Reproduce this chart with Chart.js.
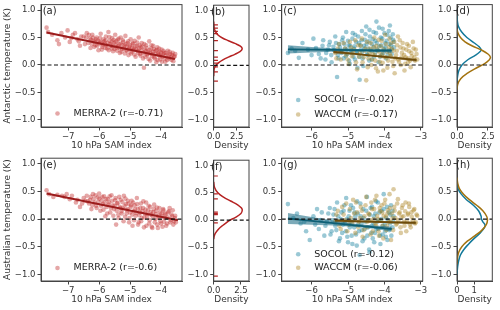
<!DOCTYPE html>
<html><head><meta charset="utf-8">
<script src="https://cdn.jsdelivr.net/npm/chart.js@4/dist/chart.umd.min.js"></script>
<style>
html,body{margin:0;padding:0;background:#fff;}
#wrap{position:relative;width:500px;height:310px;overflow:hidden;background:#fff;}
canvas{position:absolute;left:0;}
</style></head><body><div id="wrap">
<canvas id="pa" width="500" height="155" style="top:0"></canvas>
<canvas id="pb" width="500" height="155" style="top:0"></canvas>
<canvas id="pc" width="500" height="155" style="top:0"></canvas>
<canvas id="pd" width="500" height="155" style="top:0"></canvas>
<canvas id="pe" width="500" height="155" style="top:155px"></canvas>
<canvas id="pf" width="500" height="155" style="top:155px"></canvas>
<canvas id="pg" width="500" height="155" style="top:155px"></canvas>
<canvas id="ph" width="500" height="155" style="top:155px"></canvas>
</div>
<script>
// ---------- tick values / labels ----------
const yTickVals = [-1, -0.5, 0, 0.5, 1];
const yTickLabels = ['\u22121.0', '\u22120.5', '0.0', '0.5', '1.0'];
const samTicksA = [-7, -6, -5, -4];
const samLabelsA = ['\u22127', '\u22126', '\u22125', '\u22124'];
const samTicksC = [-6, -5, -4, -3];
const samLabelsC = ['\u22126', '\u22125', '\u22124', '\u22123'];
const densTicks25 = [0, 2.5];
const densLabels25 = ['0.0', '2.5'];
const densTicks1 = [0, 1];
const densLabels1 = ['0', '1'];

// ---------- (a) MERRA-2, Antarctic ----------
const merraAntX = [-7.70,-7.65,-7.52,-7.35,-7.30,-7.22,-7.10,-7.02,-6.95,-6.85,-6.70,-6.62,-6.50,-6.40,-6.35,-6.30,-6.28,-6.22,-6.18,-6.12,-6.08,-6.02,-5.98,-5.95,-5.90,-5.86,-5.82,-5.78,-5.74,-5.70,-5.66,-5.62,-5.58,-5.55,-5.51,-5.48,-5.44,-5.40,-5.36,-5.33,-5.30,-5.26,-5.22,-5.18,-5.15,-5.12,-5.08,-5.05,-5.02,-4.98,-4.95,-4.92,-4.88,-4.85,-4.82,-4.78,-4.75,-4.72,-4.68,-4.65,-4.62,-4.58,-4.55,-4.52,-4.48,-4.45,-4.42,-4.38,-4.35,-4.32,-4.28,-4.25,-4.22,-4.18,-4.15,-4.12,-4.08,-4.05,-4.02,-3.98,-3.95,-3.90,-3.86,-3.82,-3.78,-3.74,-3.70,-3.66,-3.62,-3.58];
const merraAntY = [0.68,0.60,0.55,0.45,0.38,0.58,0.50,0.63,0.42,0.55,0.47,0.35,0.52,0.58,0.40,0.48,0.31,0.55,0.44,0.36,0.50,0.27,0.42,0.57,0.33,0.47,0.39,0.52,0.30,0.60,0.44,0.35,0.49,0.25,0.41,0.55,0.32,0.46,0.38,0.22,0.50,0.29,0.42,0.35,0.53,0.27,0.40,0.18,0.33,0.47,0.24,0.38,0.30,0.44,0.15,0.35,0.26,0.50,0.20,0.32,0.40,0.12,-0.05,0.28,0.36,0.18,0.24,0.43,0.08,0.30,0.20,0.35,0.14,0.26,0.05,0.32,0.18,0.24,0.10,0.28,0.15,0.22,0.06,0.18,0.26,0.12,0.20,0.09,0.22,0.14];
const merraAntMore = [[-6.26,0.46],[-6.24,0.38],[-6.20,0.50],[-6.16,0.33],[-6.14,0.42],[-6.10,0.47],[-6.06,0.35],[-6.04,0.44],[-6.00,0.39],[-5.97,0.49],[-5.93,0.41],[-5.91,0.28],[-5.88,0.37],[-5.84,0.43],[-5.80,0.31],[-5.79,0.45],[-5.76,0.36],[-5.72,0.40],[-5.69,0.27],[-5.67,0.51],[-5.64,0.38],[-5.60,0.30],[-5.59,0.42],[-5.56,0.34],[-5.53,0.46],[-5.50,0.29],[-5.47,0.37],[-5.45,0.43],[-5.42,0.26],[-5.39,0.34],[-5.37,0.48],[-5.34,0.31],[-5.31,0.39],[-5.28,0.24],[-5.25,0.36],[-5.23,0.45],[-5.20,0.30],[-5.17,0.21],[-5.14,0.38],[-5.11,0.33],[-5.09,0.26],[-5.06,0.43],[-5.03,0.29],[-5.00,0.36],[-4.97,0.21],[-4.94,0.31],[-4.91,0.40],[-4.89,0.27],[-4.86,0.19],[-4.83,0.34],[-4.80,0.28],[-4.77,0.41],[-4.74,0.22],[-4.71,0.30],[-4.69,0.36],[-4.66,0.17],[-4.63,0.26],[-4.60,0.33],[-4.57,0.22],[-4.54,0.38],[-4.51,0.15],[-4.49,0.25],[-4.46,0.31],[-4.43,0.20],[-4.40,0.11],[-4.37,0.27],[-4.34,0.22],[-4.31,0.36],[-4.29,0.16],[-4.26,0.24],[-4.23,0.29],[-4.20,0.12],[-4.17,0.20],[-4.14,0.27],[-4.11,0.09],[-4.09,0.21],[-4.06,0.30],[-4.03,0.16],[-4.00,0.22],[-3.97,0.06],[-3.94,0.19],[-3.92,0.26],[-3.88,0.12],[-3.85,0.22],[-3.80,0.09],[-3.76,0.17],[-3.72,0.24],[-3.68,0.14],[-3.64,0.18],[-3.60,0.07],[-3.56,0.16],[-3.54,0.20],[-6.90,0.49],[-6.78,0.58],[-6.66,0.43],[-6.58,0.52],[-6.46,0.38],[-6.42,0.50],[-6.33,0.55]];
const fitMerraAntX = [-7.7, -3.55];
const fitMerraAntY = [0.59, 0.11];

// ---------- (b) MERRA-2 Antarctic density ----------
const kdeObsAntT = [-0.2,-0.1,-0.05,0.0,0.05,0.1,0.15,0.2,0.25,0.3,0.35,0.4,0.45,0.5,0.55,0.6,0.65,0.7,0.8];
const kdeObsAntD = [0.0,0.03,0.08,0.25,0.55,1.0,1.6,2.3,2.85,3.1,2.9,2.3,1.6,0.95,0.5,0.25,0.1,0.04,0.0];
const rugObsAnt = [0.74,0.68,0.62,0.58,0.45,0.27,0.15,0.09,0.04,-0.03,-0.12,-0.29];

// ---------- (c) SOCOL / WACCM, Antarctic ----------
const socolAntX = [-6.65,-6.55,-6.35,-6.10,-5.95,-5.80,-5.70,-5.62,-5.55,-5.50,-5.45,-5.40,-5.35,-5.30,-5.28,-5.24,-5.20,-5.16,-5.12,-5.08,-5.05,-5.02,-4.98,-4.95,-4.92,-4.88,-4.85,-4.82,-4.80,-4.76,-4.74,-4.70,-4.68,-4.65,-4.62,-4.60,-4.56,-4.54,-4.50,-4.48,-4.45,-4.42,-4.40,-4.36,-4.34,-4.30,-4.28,-4.25,-4.22,-4.20,-4.16,-4.14,-4.10,-4.08,-4.05,-4.02,-3.98,-3.95,-3.92,-3.88,-3.85,-3.82,-3.80,-3.76,-3.74];
const socolAntY = [0.22,0.30,0.13,0.28,0.48,0.20,0.35,0.10,0.28,0.42,0.05,0.33,0.52,-0.22,0.18,0.38,0.25,0.45,0.12,0.30,0.60,0.20,0.36,0.02,0.27,0.48,0.15,0.34,0.55,0.22,-0.05,0.40,-0.27,0.28,0.62,0.12,0.35,0.46,0.70,0.20,0.30,0.08,0.52,0.25,0.38,0.60,0.15,0.44,0.79,0.28,0.05,0.34,0.50,0.18,0.66,0.30,0.40,0.12,0.55,0.26,0.72,0.36,0.20,0.46,0.32];
const socolAntMore = [[-5.60,0.22],[-5.52,0.36],[-5.46,0.18],[-5.38,0.27],[-5.33,0.40],[-5.26,0.12],[-5.22,0.32],[-5.18,0.22],[-5.14,0.50],[-5.10,0.38],[-5.06,0.16],[-5.03,0.28],[-5.00,0.44],[-4.97,0.08],[-4.94,0.35],[-4.90,0.22],[-4.87,0.58],[-4.84,0.30],[-4.81,0.10],[-4.78,0.42],[-4.75,0.25],[-4.72,0.52],[-4.69,0.15],[-4.66,0.36],[-4.63,0.45],[-4.61,0.24],[-4.58,-0.02],[-4.55,0.30],[-4.52,0.56],[-4.49,0.38],[-4.46,0.18],[-4.43,0.43],[-4.41,0.64],[-4.38,0.28],[-4.35,0.10],[-4.32,0.47],[-4.29,0.33],[-4.26,0.22],[-4.23,0.58],[-4.21,0.40],[-4.18,0.26],[-4.15,0.68],[-4.12,0.15],[-4.09,0.36],[-4.06,0.48],[-4.03,0.22],[-4.00,0.58],[-3.97,0.32],[-3.94,0.44],[-3.91,0.18],[-3.88,0.62],[-3.86,0.38],[-3.83,0.50],[-3.80,0.28],[-3.77,0.56],[-3.75,0.42],[-6.45,0.26],[-6.25,0.40],[-6.00,0.18],[-5.88,0.31],[-5.75,0.12],[-5.68,0.45]];
const waccmAntX = [-5.35,-5.28,-5.20,-5.12,-5.05,-4.98,-4.92,-4.86,-4.80,-4.75,-4.70,-4.65,-4.60,-4.55,-4.50,-4.48,-4.44,-4.40,-4.36,-4.32,-4.28,-4.25,-4.22,-4.18,-4.15,-4.12,-4.08,-4.05,-4.02,-3.98,-3.95,-3.92,-3.88,-3.85,-3.82,-3.78,-3.75,-3.72,-3.68,-3.65,-3.62,-3.58,-3.55,-3.52,-3.48,-3.45,-3.42,-3.38,-3.35,-3.32,-3.28,-3.25,-3.20,-3.16,-3.12];
const waccmAntY = [0.22,0.30,0.10,0.40,0.18,0.02,0.32,0.24,0.45,-0.08,0.15,0.35,0.05,0.26,-0.28,0.42,0.12,0.30,0.00,0.20,0.50,0.08,0.35,-0.12,0.24,0.16,0.44,0.04,0.28,0.55,0.14,-0.05,0.32,0.20,0.40,0.06,0.26,-0.15,0.18,0.36,0.10,0.45,0.00,0.22,0.30,-0.10,0.14,0.38,0.05,0.25,-0.04,0.16,0.30,0.08,0.20];
const waccmAntMore = [[-5.32,0.12],[-5.25,0.38],[-5.16,0.24],[-5.08,0.30],[-5.01,0.10],[-4.95,0.42],[-4.89,0.16],[-4.83,0.28],[-4.78,0.05],[-4.72,0.36],[-4.67,0.22],[-4.62,0.48],[-4.57,0.14],[-4.52,0.30],[-4.46,-0.04],[-4.42,0.22],[-4.38,0.40],[-4.34,0.10],[-4.30,0.32],[-4.26,0.18],[-4.23,-0.06],[-4.20,0.28],[-4.16,0.46],[-4.13,0.06],[-4.10,0.34],[-4.06,0.20],[-4.03,-0.10],[-4.00,0.14],[-3.96,0.38],[-3.93,0.24],[-3.90,0.08],[-3.86,0.48],[-3.83,0.16],[-3.80,0.30],[-3.76,-0.02],[-3.73,0.42],[-3.70,0.12],[-3.66,0.26],[-3.63,0.52],[-3.60,0.06],[-3.56,0.32],[-3.53,0.14],[-3.50,0.40],[-3.46,0.18],[-3.43,0.02],[-3.40,0.28],[-3.36,0.12],[-3.33,0.35],[-3.30,0.08],[-3.26,0.22],[-3.22,0.42],[-3.18,0.14],[-3.14,0.28],[-3.10,0.10]];
const fitSocolAntX = [-6.65, -6.0, -5.4, -4.8, -4.3, -3.8];
const fitSocolAntY = [0.285, 0.279, 0.274, 0.269, 0.264, 0.26];
const bandSocolAntHi = [0.36, 0.329, 0.306, 0.291, 0.286, 0.295];
const bandSocolAntLo = [0.21, 0.229, 0.242, 0.247, 0.242, 0.225];
const fitWaccmAntX = [-5.4, -4.8, -4.3, -3.7, -3.12];
const fitWaccmAntY = [0.24, 0.2005, 0.1676, 0.128, 0.09];
const bandWaccmAntHi = [0.275, 0.22, 0.183, 0.148, 0.12];
const bandWaccmAntLo = [0.205, 0.18, 0.153, 0.108, 0.06];

// ---------- (d) model Antarctic densities ----------
const kdeSocolAntT = [-0.3,-0.2,-0.1,0.0,0.1,0.18,0.24,0.28,0.33,0.4,0.5,0.6,0.7,0.8,0.9];
const kdeSocolAntD = [0.0,0.05,0.15,0.4,0.9,1.5,1.85,1.95,1.8,1.4,0.8,0.38,0.12,0.03,0.0];
const kdeWaccmAntT = [-0.45,-0.35,-0.25,-0.15,-0.05,0.02,0.08,0.14,0.2,0.27,0.35,0.42,0.5,0.58,0.65];
const kdeWaccmAntD = [0.0,0.06,0.3,0.85,1.6,2.2,2.55,2.7,2.5,2.0,1.2,0.65,0.28,0.08,0.0];

// ---------- (e) MERRA-2, Australian ----------
const merraAusX = [-7.70,-7.62,-7.48,-7.35,-7.20,-7.05,-6.95,-6.75,-6.62,-6.50,-6.40,-6.33,-6.30,-6.25,-6.20,-6.15,-6.10,-6.05,-6.00,-5.96,-5.92,-5.88,-5.84,-5.80,-5.76,-5.72,-5.68,-5.64,-5.60,-5.56,-5.52,-5.48,-5.45,-5.42,-5.38,-5.35,-5.31,-5.28,-5.25,-5.21,-5.18,-5.15,-5.11,-5.08,-5.05,-5.02,-4.98,-4.95,-4.92,-4.88,-4.85,-4.82,-4.78,-4.75,-4.72,-4.68,-4.65,-4.62,-4.58,-4.55,-4.52,-4.48,-4.45,-4.42,-4.38,-4.35,-4.32,-4.28,-4.25,-4.22,-4.18,-4.15,-4.12,-4.08,-4.05,-4.02,-3.98,-3.95,-3.92,-3.88,-3.85,-3.80,-3.76,-3.72,-3.68,-3.64,-3.60,-3.55,-3.52];
const merraAusY = [0.52,0.45,0.40,0.44,0.42,0.45,0.36,0.30,0.22,0.38,0.42,0.28,0.35,0.18,0.45,0.30,0.24,0.39,0.46,0.15,0.33,0.27,0.41,0.05,0.22,0.36,0.30,0.12,0.43,0.25,0.18,0.34,-0.10,0.28,0.08,0.40,0.20,0.14,0.31,-0.04,0.24,0.37,0.10,0.18,0.28,0.02,0.22,0.33,-0.12,0.14,0.25,0.06,0.38,0.18,-0.06,0.12,0.28,0.02,0.20,-0.15,0.10,0.30,0.04,0.16,-0.08,0.22,0.08,-0.16,0.12,0.26,0.00,0.15,-0.10,0.06,0.20,-0.04,0.10,-0.14,0.16,0.02,0.08,-0.08,0.12,0.20,-0.02,0.05,-0.10,0.02,-0.06];
const merraAusMore = [[-6.36,0.32],[-6.27,0.40],[-6.22,0.25],[-6.18,0.36],[-6.12,0.43],[-6.08,0.20],[-6.03,0.31],[-5.99,0.37],[-5.94,0.24],[-5.90,0.40],[-5.86,0.17],[-5.82,0.30],[-5.78,0.36],[-5.74,0.10],[-5.70,0.26],[-5.66,0.41],[-5.62,0.20],[-5.58,0.33],[-5.54,0.06],[-5.50,0.24],[-5.47,0.38],[-5.43,0.15],[-5.40,0.29],[-5.37,0.02],[-5.33,0.22],[-5.30,0.35],[-5.27,0.10],[-5.23,0.19],[-5.20,0.42],[-5.16,0.04],[-5.13,0.27],[-5.10,0.16],[-5.07,0.33],[-5.03,-0.06],[-5.00,0.12],[-4.97,0.25],[-4.93,0.08],[-4.90,0.30],[-4.87,-0.02],[-4.84,0.18],[-4.80,0.11],[-4.77,0.27],[-4.74,-0.10],[-4.70,0.07],[-4.67,0.20],[-4.64,-0.04],[-4.60,0.14],[-4.57,0.32],[-4.54,0.03],[-4.50,0.17],[-4.47,-0.12],[-4.44,0.09],[-4.40,0.24],[-4.37,-0.02],[-4.33,0.13],[-4.30,-0.14],[-4.27,0.05],[-4.23,0.18],[-4.20,-0.06],[-4.17,0.09],[-4.13,0.21],[-4.10,-0.16],[-4.07,0.02],[-4.03,0.12],[-4.00,-0.08],[-3.97,0.05],[-3.93,0.18],[-3.90,-0.05],[-3.87,0.10],[-3.83,-0.12],[-3.79,0.03],[-3.75,0.14],[-3.70,-0.06],[-3.66,0.08],[-3.62,0.16],[-3.58,-0.04],[-3.54,0.06],[-7.12,0.40],[-6.88,0.42],[-6.70,0.35],[-6.55,0.28],[-6.45,0.33]];
const fitMerraAusX = [-7.7, -3.45];
const fitMerraAusY = [0.46, -0.02];

// ---------- (f) MERRA-2 Australian density ----------
const kdeObsAusT = [-0.35,-0.3,-0.25,-0.2,-0.15,-0.1,-0.05,0.0,0.05,0.12,0.18,0.22,0.28,0.35,0.42,0.5,0.6,0.7];
const kdeObsAusD = [0.0,0.04,0.13,0.3,0.52,0.82,1.15,1.5,2.0,2.5,2.62,2.55,2.2,1.55,0.9,0.38,0.08,0.0];
const rugObsAus = [0.81,0.48,0.39,0.145,0.12,0.10,-0.05,-1.03];

// ---------- (g) SOCOL / WACCM, Australian ----------
const socolAusX = [-6.65,-6.50,-6.30,-6.05,-5.95,-5.80,-5.72,-5.65,-5.58,-5.50,-5.45,-5.40,-5.35,-5.30,-5.25,-5.20,-5.16,-5.12,-5.08,-5.05,-5.02,-4.98,-4.95,-4.92,-4.88,-4.85,-4.82,-4.78,-4.75,-4.72,-4.68,-4.65,-4.62,-4.58,-4.55,-4.52,-4.48,-4.45,-4.42,-4.40,-4.36,-4.34,-4.30,-4.28,-4.25,-4.22,-4.18,-4.15,-4.12,-4.08,-4.05,-4.02,-3.98,-3.95,-3.92,-3.88,-3.85,-3.82,-3.78,-3.75];
const socolAusY = [0.27,0.02,-0.08,-0.38,0.05,-0.18,0.12,-0.30,-0.05,0.20,-0.22,0.08,-0.12,0.30,-0.40,0.00,-0.25,0.15,-0.08,0.38,-0.32,0.05,-0.15,0.25,-0.45,-0.02,0.12,-0.28,0.32,-0.10,-0.65,0.05,-0.20,0.18,-0.35,-0.05,0.40,-0.15,-0.55,0.08,-0.25,0.22,-0.08,-0.42,0.10,-0.18,0.30,-0.02,-0.30,0.15,-0.12,0.45,-0.22,0.02,-0.38,0.12,-0.08,0.25,-0.15,0.05];
const socolAusMore = [[-5.62,-0.12],[-5.54,0.10],[-5.48,-0.28],[-5.42,-0.02],[-5.37,0.18],[-5.32,-0.20],[-5.27,0.05],[-5.22,-0.35],[-5.18,0.12],[-5.14,-0.10],[-5.10,0.25],[-5.06,-0.22],[-5.03,0.00],[-5.00,-0.42],[-4.96,0.15],[-4.93,-0.05],[-4.90,-0.30],[-4.86,0.20],[-4.83,-0.15],[-4.80,0.05],[-4.76,-0.48],[-4.73,0.10],[-4.70,-0.22],[-4.66,0.28],[-4.63,-0.08],[-4.60,-0.40],[-4.57,0.02],[-4.54,-0.18],[-4.50,0.15],[-4.47,-0.30],[-4.44,-0.02],[-4.41,-0.60],[-4.38,0.20],[-4.35,-0.12],[-4.32,-0.35],[-4.29,0.05],[-4.26,-0.25],[-4.23,0.32],[-4.20,-0.05],[-4.17,-0.18],[-4.14,0.12],[-4.11,-0.45],[-4.08,0.00],[-4.05,-0.28],[-4.02,0.18],[-3.99,-0.10],[-3.96,-0.32],[-3.93,0.22],[-3.90,-0.02],[-3.87,-0.20],[-3.84,0.08],[-3.81,-0.30],[-3.78,0.15],[-3.76,-0.05],[-6.40,0.10],[-6.20,-0.05],[-6.15,-0.22],[-5.90,-0.10],[-5.85,0.18],[-5.75,-0.02]];
const waccmAusX = [-5.35,-5.28,-5.20,-5.12,-5.05,-4.98,-4.92,-4.86,-4.80,-4.75,-4.70,-4.65,-4.60,-4.55,-4.50,-4.48,-4.44,-4.40,-4.36,-4.32,-4.28,-4.25,-4.22,-4.18,-4.15,-4.12,-4.08,-4.05,-4.02,-3.98,-3.95,-3.92,-3.88,-3.85,-3.82,-3.78,-3.75,-3.72,-3.68,-3.65,-3.62,-3.58,-3.55,-3.52,-3.48,-3.45,-3.42,-3.38,-3.35,-3.32,-3.28,-3.25,-3.20,-3.16,-3.12];
const waccmAusY = [-0.05,0.15,-0.18,0.08,0.28,-0.10,0.02,0.35,-0.25,0.12,-0.05,0.22,-0.32,0.05,0.40,-0.15,0.10,-0.02,0.30,-0.22,0.18,-0.08,0.42,0.00,-0.30,0.14,0.25,-0.12,0.06,0.35,-0.20,0.10,-0.05,0.20,-0.38,0.02,0.54,0.15,-0.10,0.28,-0.02,0.12,-0.25,0.20,0.05,-0.12,0.30,-0.05,0.10,0.22,-0.15,0.04,0.16,-0.08,0.08];
const waccmAusMore = [[-5.32,0.08],[-5.24,-0.12],[-5.16,0.22],[-5.09,-0.02],[-5.02,-0.22],[-4.95,0.18],[-4.89,-0.08],[-4.83,0.10],[-4.78,0.30],[-4.72,-0.15],[-4.67,0.02],[-4.62,0.15],[-4.57,-0.20],[-4.52,0.25],[-4.47,-0.05],[-4.42,0.08],[-4.38,-0.28],[-4.34,0.18],[-4.30,0.00],[-4.26,0.35],[-4.23,-0.12],[-4.20,0.06],[-4.16,-0.22],[-4.13,0.20],[-4.10,-0.02],[-4.06,0.12],[-4.03,-0.35],[-4.00,0.28],[-3.96,0.04],[-3.93,-0.12],[-3.90,0.16],[-3.86,0.45],[-3.83,-0.05],[-3.80,0.10],[-3.76,-0.20],[-3.73,0.22],[-3.70,0.02],[-3.66,-0.08],[-3.63,0.36],[-3.60,0.10],[-3.56,-0.15],[-3.53,0.04],[-3.50,0.25],[-3.46,-0.05],[-3.43,0.14],[-3.40,-0.22],[-3.36,0.08],[-3.33,0.28],[-3.30,-0.10],[-3.26,0.12],[-3.22,-0.02],[-3.18,0.18],[-3.14,-0.06],[-3.10,0.06]];
const fitSocolAusX = [-6.65, -6.0, -5.4, -4.8, -4.3, -3.8];
const fitSocolAusY = [0.01, -0.033, -0.073, -0.113, -0.147, -0.18];
const bandSocolAusHi = [0.11, 0.037, -0.028, -0.083, -0.117, -0.135];
const bandSocolAusLo = [-0.09, -0.103, -0.118, -0.143, -0.177, -0.225];
const fitWaccmAusX = [-5.36, -4.8, -4.3, -3.7, -3.14];
const fitWaccmAusY = [-0.03, -0.04, -0.049, -0.06, -0.07];
const bandWaccmAusHi = [0.005, -0.02, -0.034, -0.04, -0.04];
const bandWaccmAusLo = [-0.065, -0.06, -0.064, -0.08, -0.10];

// ---------- (h) model Australian densities ----------
const kdeSocolAusT = [0.65,0.55,0.45,0.35,0.25,0.15,0.05,0.0,-0.05,-0.1,-0.15,-0.25,-0.35,-0.45,-0.55,-0.65,-0.75,-0.85,-1.0];
const kdeSocolAusD = [0.0,0.06,0.25,0.55,0.95,1.25,1.4,1.42,1.5,1.62,1.6,1.35,1.0,0.68,0.4,0.2,0.1,0.04,0.0];
const kdeWaccmAusT = [0.75,0.65,0.55,0.45,0.35,0.25,0.15,0.05,-0.02,-0.1,-0.2,-0.3,-0.4,-0.5,-0.6,-0.7,-0.82];
const kdeWaccmAusD = [0.0,0.04,0.14,0.38,0.72,1.14,1.5,1.72,1.77,1.7,1.45,1.05,0.6,0.28,0.1,0.03,0.0];

// ---------- colours ----------
const C = {
  merraPt: 'rgba(192,45,45,0.42)', merraLine: '#9c1c1c', merraKde: '#b52222',
  socolPt: 'rgba(15,125,155,0.42)', socolLine: '#0d5f75', socolBand: 'rgba(16,100,125,0.55)', socolKde: '#13799a',
  waccmPt: 'rgba(170,128,30,0.42)', waccmLine: '#6e4c0b', waccmBand: 'rgba(110,80,15,0.5)', waccmKde: '#a3730f',
  axis: '#444', text: '#333'
};
const FONT = "'DejaVu Sans', sans-serif";

// ---------- helpers ----------
const pts = (xs, ys) => xs.map((x, i) => ({x: x, y: ys[i]}));
const pairs = (arr) => arr.map(p => ({x: p[0], y: p[1]}));
const kde = (ds, ts) => ds.map((d, i) => ({x: d, y: ts[i]}));
const rug = (ts, xv) => ts.map(t => ({x: xv, y: t}));

function scatterDs(data, color, order) {
  return {type: 'scatter', data, pointRadius: 2.3, pointHoverRadius: 2.3, pointBackgroundColor: color,
          pointBorderWidth: 0, pointBorderColor: color, order, clip: 0};
}
function lineDs(data, color, width, order, extra) {
  return Object.assign({type: 'line', data, borderColor: color, borderWidth: width, pointRadius: 0,
          pointHoverRadius: 0, fill: false, tension: 0, order, clip: 0}, extra || {});
}
function zeroDs(xr) {
  return lineDs([{x: xr[0], y: 0}, {x: xr[1], y: 0}], '#111', 1.2, 0, {borderDash: [4, 2.5]});
}
function bandDs(xs, hi, lo, color, order) {
  return [
    lineDs(pts(xs, hi), 'rgba(0,0,0,0)', 0, order, {fill: '+1', backgroundColor: color}),
    lineDs(pts(xs, lo), 'rgba(0,0,0,0)', 0, order, {})
  ];
}

const boxPlugin = {
  id: 'frameBox',
  afterDatasetsDraw(chart) {
    const a = chart.chartArea, ctx = chart.ctx;
    ctx.save();
    ctx.strokeStyle = C.axis; ctx.lineWidth = 1;
    ctx.strokeRect(a.left, a.top, a.right - a.left, a.bottom - a.top);
    ctx.restore();
  }
};
const textPlugin = {
  id: 'panelText',
  afterDraw(chart, args, opts) {
    const a = chart.chartArea, ctx = chart.ctx;
    ctx.save();
    ctx.textBaseline = 'middle'; ctx.textAlign = 'left';
    ctx.fillStyle = '#222';
    ctx.font = '10px ' + FONT;
    ctx.fillText(opts.label, a.left + opts.labelDx, a.top + 7);
    ctx.font = '9.5px ' + FONT;
    (opts.legend || []).forEach(it => {
      const y = a.bottom - it.dy;
      ctx.fillStyle = it.color;
      ctx.beginPath(); ctx.arc(a.left + 16.5, y, 2.3, 0, Math.PI * 2); ctx.fill();
      ctx.fillStyle = '#222';
      ctx.fillText(it.text, a.left + 32.5, y);
    });
    ctx.restore();
  }
};

const YW = 39, XH = 24.4, CH = 155;
function panel(id, area, xr, yr, xt, xtl, xTitle, yTitle, datasets, label, labelDx, legend) {
  const tickFont = {family: FONT, size: 8.5};
  const titleFont = {family: FONT, size: 9};
  const fitX = s => { s.height = XH; s.paddingLeft = 0; s.paddingRight = 0; s.paddingTop = 0; s.paddingBottom = 0; };
  const fitY = s => { s.width = YW; s.paddingLeft = 0; s.paddingRight = 0; s.paddingTop = 0; s.paddingBottom = 0; };
  new Chart(document.getElementById(id), {
    type: 'scatter',
    data: {datasets},
    options: {
      responsive: false, animation: false, devicePixelRatio: 1, events: [],
      layout: {padding: {left: area.l - YW, right: 500 - area.r, top: area.t, bottom: CH - area.b - XH}},
      plugins: {legend: {display: false}, tooltip: {enabled: false},
                panelText: {label, labelDx, legend}},
      scales: {
        x: {type: 'linear', min: xr[0], max: xr[1],
            afterBuildTicks: s => { s.ticks = xt.map(v => ({value: v})); },
            afterFit: fitX,
            ticks: {callback: (v, i) => xtl[i], autoSkip: false, maxRotation: 0, padding: 1, color: C.text, font: tickFont},
            grid: {drawOnChartArea: false, tickLength: 3.5, color: C.axis, tickColor: C.axis},
            border: {color: C.axis},
            title: {display: true, text: xTitle, padding: 0, color: C.text, font: titleFont}},
        y: {type: 'linear', min: yr[0], max: yr[1],
            afterBuildTicks: s => { s.ticks = yTickVals.map(v => ({value: v})); },
            afterFit: fitY,
            ticks: {callback: (v, i) => yTickLabels[i], autoSkip: false, padding: 2, color: C.text, font: tickFont},
            grid: {drawOnChartArea: false, tickLength: 3.5, color: C.axis, tickColor: C.axis},
            border: {color: C.axis},
            title: {display: !!yTitle, text: yTitle || '', padding: {top: 0, bottom: 0}, color: C.text, font: titleFont}}
      }
    },
    plugins: [boxPlugin, textPlugin]
  });
}

const SAM = '10 hPa SAM index', DEN = 'Density';
const yrTop = [-1.13, 1.10], yrBot = [-1.12, 1.10];
const rowTop = {t: 4.6, b: 127}, rowBot = {t: 3.2, b: 126};
const colA = {l: 41, r: 182}, colB = {l: 213.7, r: 249}, colC = {l: 281.7, r: 422.7}, colD = {l: 457, r: 492.3};
const xrA = [-7.88, -3.32], xrC = [-6.82, -2.95];
const xrB = [0, 3.84], xrF = [0, 3.24], xrD = [0, 2.85], xrH = [0, 2.05];

// (a)
panel('pa', Object.assign({}, colA, rowTop), xrA, yrTop, samTicksA, samLabelsA, SAM, 'Antarctic temperature (K)', [
  zeroDs(xrA),
  lineDs(pts(fitMerraAntX, fitMerraAntY), C.merraLine, 2, 1),
  scatterDs(pts(merraAntX, merraAntY).concat(pairs(merraAntMore)), C.merraPt, 3)
], '(a)', 1.7, [{text: 'MERRA-2 (r=-0.71)', color: C.merraPt, dy: 13.5}]);

// (b)
panel('pb', Object.assign({}, colB, rowTop), xrB, yrTop, densTicks25, densLabels25, DEN, null, [
  zeroDs(xrB),
  lineDs(kde(kdeObsAntD, kdeObsAntT), C.merraKde, 1.5, 1, {tension: 0.4}),
  {type: 'scatter', data: rug(rugObsAnt, 0.22), pointStyle: 'line', pointRadius: 2.2, pointBorderWidth: 1.2,
   pointBorderColor: C.merraKde, pointBackgroundColor: C.merraKde, order: 2, clip: 0}
], '(b)', -2.7, []);

// (c)
panel('pc', Object.assign({}, colC, rowTop), xrC, yrTop, samTicksC, samLabelsC, SAM, null, [
  zeroDs(xrC),
  lineDs(pts(fitSocolAntX, fitSocolAntY), C.socolLine, 1.8, 1),
  lineDs(pts(fitWaccmAntX, fitWaccmAntY), C.waccmLine, 1.8, 1),
  ...bandDs(fitSocolAntX, bandSocolAntHi, bandSocolAntLo, C.socolBand, 2),
  ...bandDs(fitWaccmAntX, bandWaccmAntHi, bandWaccmAntLo, C.waccmBand, 2),
  scatterDs(pts(socolAntX, socolAntY).concat(pairs(socolAntMore)), C.socolPt, 4),
  scatterDs(pts(waccmAntX, waccmAntY).concat(pairs(waccmAntMore)), C.waccmPt, 3)
], '(c)', 1.6, [{text: 'SOCOL (r=-0.02)', color: C.socolPt, dy: 27}, {text: 'WACCM (r=-0.17)', color: C.waccmPt, dy: 12.5}]);

// (d)
panel('pd', Object.assign({}, colD, rowTop), xrD, yrTop, densTicks25, densLabels25, DEN, null, [
  zeroDs(xrD),
  lineDs(kde(kdeWaccmAntD, kdeWaccmAntT), C.waccmKde, 1.5, 1, {tension: 0.4}),
  lineDs(kde(kdeSocolAntD, kdeSocolAntT), C.socolKde, 1.5, 1, {tension: 0.4})
], '(d)', -1.3, []);

// (e)
panel('pe', Object.assign({}, colA, rowBot), xrA, yrBot, samTicksA, samLabelsA, SAM, 'Australian temperature (K)', [
  zeroDs(xrA),
  lineDs(pts(fitMerraAusX, fitMerraAusY), C.merraLine, 2, 1),
  scatterDs(pts(merraAusX, merraAusY).concat(pairs(merraAusMore)), C.merraPt, 3)
], '(e)', 1.7, [{text: 'MERRA-2 (r=-0.6)', color: C.merraPt, dy: 13}]);

// (f)
panel('pf', Object.assign({}, colB, rowBot), xrF, yrBot, densTicks25, densLabels25, DEN, null, [
  zeroDs(xrF),
  lineDs(kde(kdeObsAusD, kdeObsAusT), C.merraKde, 1.5, 1, {tension: 0.4}),
  {type: 'scatter', data: rug(rugObsAus, 0.18), pointStyle: 'line', pointRadius: 2.2, pointBorderWidth: 1.2,
   pointBorderColor: C.merraKde, pointBackgroundColor: C.merraKde, order: 2, clip: 0}
], '(f)', -2.7, []);

// (g)
panel('pg', Object.assign({}, colC, rowBot), xrC, yrBot, samTicksC, samLabelsC, SAM, null, [
  zeroDs(xrC),
  lineDs(pts(fitSocolAusX, fitSocolAusY), C.socolLine, 1.8, 1),
  lineDs(pts(fitWaccmAusX, fitWaccmAusY), C.waccmLine, 1.8, 1),
  ...bandDs(fitSocolAusX, bandSocolAusHi, bandSocolAusLo, C.socolBand, 2),
  ...bandDs(fitWaccmAusX, bandWaccmAusHi, bandWaccmAusLo, C.waccmBand, 2),
  scatterDs(pts(socolAusX, socolAusY).concat(pairs(socolAusMore)), C.socolPt, 4),
  scatterDs(pts(waccmAusX, waccmAusY).concat(pairs(waccmAusMore)), C.waccmPt, 3)
], '(g)', 1.6, [{text: 'SOCOL (r=-0.12)', color: C.socolPt, dy: 26.7}, {text: 'WACCM (r=-0.06)', color: C.waccmPt, dy: 13.3}]);

// (h)
panel('ph', Object.assign({}, colD, rowBot), xrH, yrBot, densTicks1, densLabels1, DEN, null, [
  zeroDs(xrH),
  lineDs(kde(kdeWaccmAusD, kdeWaccmAusT), C.waccmKde, 1.5, 1, {tension: 0.4}),
  lineDs(kde(kdeSocolAusD, kdeSocolAusT), C.socolKde, 1.5, 1, {tension: 0.4})
], '(h)', -1, []);
</script>
</body></html>
